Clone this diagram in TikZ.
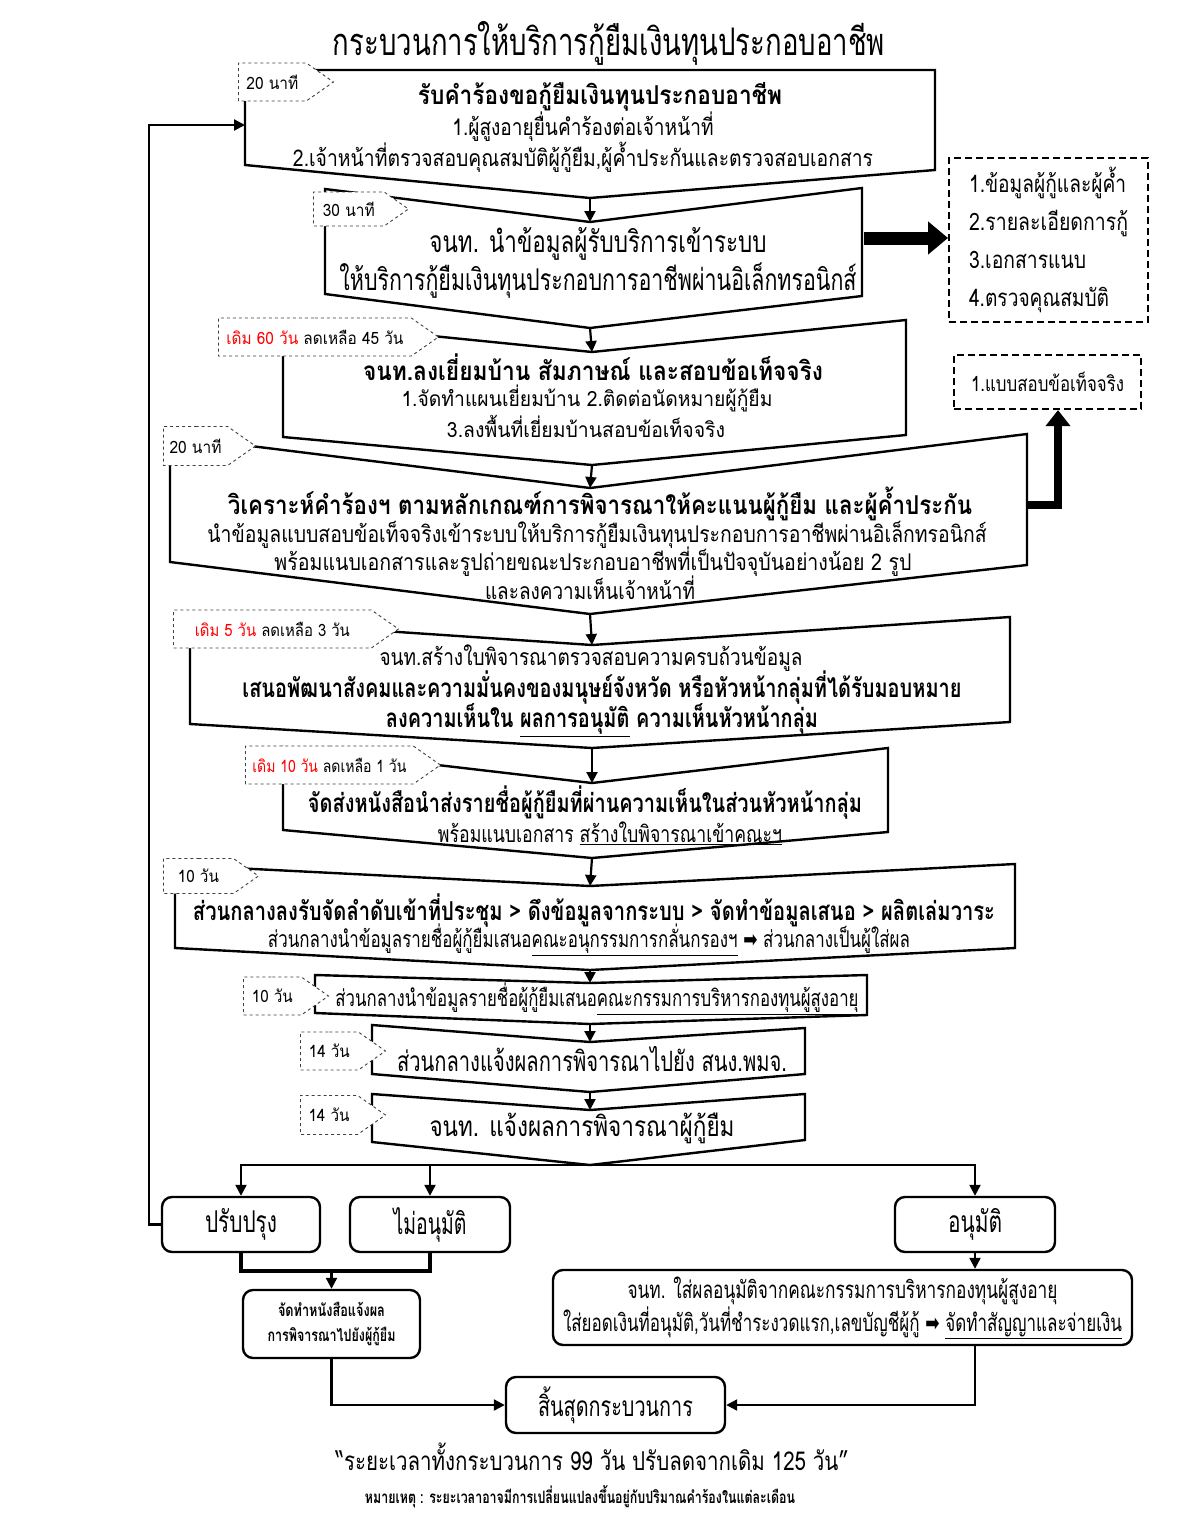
\documentclass[tikz,border=0pt]{standalone}
\usepackage{fontspec}
\usepackage{graphicx}
\setmainfont{Loma}[Script=Thai]
\newfontfamily\symfont{DejaVu Sans}
\usetikzlibrary{arrows.meta,shapes.symbols}

% squeeze a line of text to the width it has in the picture
\newcommand{\fitw}[2]{\resizebox{#1pt}{\height}{#2}}
\newcommand{\rarr}{{\symfont ➡}}

\begin{document}
\begin{tikzpicture}[x=1pt, y=-1pt,
  box/.style={draw=black, line width=2.4pt, line join=miter},
  tag/.style={signal, signal to=east, signal pointer angle=70, draw=black!75, dashed,
              line width=0.9pt, fill=white, anchor=west, inner sep=1pt,
              font=\fontsize{17}{20}\selectfont},
  rbox/.style={draw=black, line width=2.4pt, rounded corners=10pt, fill=white,
               align=center, inner sep=0pt},
  dbox/.style={draw=black, line width=2.2pt, dash pattern=on 7pt off 4pt,
               align=left, inner sep=0pt},
  ttl/.style={inner sep=0pt, font=\fontsize{38}{44}\selectfont},
  big/.style={inner sep=0pt, font=\fontsize{30}{36}\selectfont},
  hd/.style={inner sep=0pt, font=\bfseries\fontsize{26}{31}\selectfont},
  txt/.style={inner sep=0pt, font=\fontsize{23}{28}\selectfont},
  tiny/.style={inner sep=0pt, font=\bfseries\fontsize{17}{25}\selectfont},
  arr/.style={draw=black, line width=2.2pt, -{Triangle[length=11pt,width=11pt]}},
  fat/.style={draw=black, line width=13pt, -{Triangle[length=20pt,width=32pt]}},
  fatb/.style={draw=black, line width=8pt, line join=miter, -{Triangle[length=16pt,width=24pt]}}
]
\path[fill=white, use as bounding box] (0,0) rectangle (1193,1536);

\node[ttl] (title) at (609,43) {\fitw{552}{กระบวนการให้บริการกู้ยืมเงินทุนประกอบอาชีพ}};

% step boxes
\draw[box] (245,70) -- (935,70) -- (935,170) -- (590,198) coordinate (b1out) -- (245,165) -- cycle;
\coordinate (b1in) at (245,125);
\draw[box] (325,189) -- (590,222) coordinate (b2in) -- (862,188) -- (862,296) -- (590,328) coordinate (b2out) -- (325,294) -- cycle;
\coordinate (b2r) at (864,238);
\draw[box] (283,321) -- (592,352) coordinate (b3in) -- (906,320) -- (906,435) -- (592,465) coordinate (b3out) -- (283,437) -- cycle;
\draw[box] (170,436) -- (590,488) coordinate (b4in) -- (1027,434) -- (1027,565) -- (590,614) coordinate (b4out) -- (170,562) -- cycle;
\coordinate (b4r) at (1026,505);
\coordinate (b4up) at (1058,505);
\draw[box] (190,618) -- (592,645) coordinate (b5in) -- (1010,617) -- (1010,722) -- (592,748) coordinate (b5out) -- (190,724) -- cycle;
\draw[box] (283,747) -- (592,783) coordinate (b6in) -- (888,748) -- (888,832) -- (592,858) coordinate (b6out) -- (283,830) -- cycle;
\draw[box] (175,865) -- (590,886) coordinate (b7in) -- (1015,864) -- (1015,948) -- (590,970) coordinate (b7out) -- (175,948) -- cycle;
\draw[box] (315,975) -- (590,983) coordinate (b8in) -- (867,975) -- (867,1015) -- (590,1024) coordinate (b8out) -- (315,1013) -- cycle;
\draw[box] (372,1025) -- (590,1042) coordinate (b9in) -- (805,1028) -- (805,1074) -- (590,1092) coordinate (b9out) -- (372,1074) -- cycle;
\draw[box] (372,1094) -- (590,1110) coordinate (b10in) -- (805,1094) -- (805,1140) -- (590,1165) coordinate (b10out) -- (372,1142) -- cycle;

% time tags
\node[tag, minimum width=95pt, minimum height=38pt] (t1) at (238,82) {\fitw{52}{20 นาที}};
\node[tag, minimum width=95pt, minimum height=34pt] (t2) at (313,209) {\fitw{52}{30 นาที}};
\node[tag, minimum width=220pt, minimum height=38pt] (t3) at (218,337) {\fitw{177}{\color{red}เดิม 60 วัน \color{black}ลดเหลือ 45 วัน}};
\node[tag, minimum width=92pt, minimum height=39pt] (t4) at (163,446) {\fitw{52}{20 นาที}};
\node[tag, minimum width=225pt, minimum height=38pt] (t5) at (173,629) {\fitw{155}{\color{red}เดิม 5 วัน \color{black}ลดเหลือ 3 วัน}};
\node[tag, minimum width=195pt, minimum height=38pt] (t6) at (245,765) {\fitw{154}{\color{red}เดิม 10 วัน \color{black}ลดเหลือ 1 วัน}};
\node[tag, minimum width=95pt, minimum height=35pt] (t7) at (163,876) {\fitw{41}{10 วัน}};
\node[tag, minimum width=85pt, minimum height=38pt] (t8) at (243,996) {\fitw{41}{10 วัน}};
\node[tag, minimum width=85pt, minimum height=38pt] (t9) at (300,1051) {\fitw{41}{14 วัน}};
\node[tag, minimum width=85pt, minimum height=39pt] (t10) at (300,1115) {\fitw{41}{14 วัน}};

% step texts
\node[hd] (s1a) at (600,97) {\fitw{364}{รับคำร้องขอกู้ยืมเงินทุนประกอบอาชีพ}};
\node[txt] (s1b) at (583,127) {\fitw{261}{1.ผู้สูงอายุยื่นคำร้องต่อเจ้าหน้าที่}};
\node[txt] (s1c) at (583,157) {\fitw{580}{2.เจ้าหน้าที่ตรวจสอบคุณสมบัติผู้กู้ยืม,ผู้ค้ำประกันและตรวจสอบเอกสาร}};
\node[big] (s2a) at (598,244) {\fitw{337}{จนท. นำข้อมูลผู้รับบริการเข้าระบบ}};
\node[big] (s2b) at (598,281) {\fitw{517}{ให้บริการกู้ยืมเงินทุนประกอบการอาชีพผ่านอิเล็กทรอนิกส์}};
\node[hd] (s3a) at (593,367) {\fitw{460}{จนท.ลงเยี่ยมบ้าน สัมภาษณ์ และสอบข้อเท็จจริง}};
\node[txt, font=\fontsize{21}{26}\selectfont] (s3b) at (587,398) {\fitw{371}{1.จัดทำแผนเยี่ยมบ้าน 2.ติดต่อนัดหมายผู้กู้ยืม}};
\node[txt, font=\fontsize{21}{26}\selectfont] (s3c) at (586,426) {\fitw{278}{3.ลงพื้นที่เยี่ยมบ้านสอบข้อเท็จจริง}};
\node[hd] (s4a) at (600,504) {\fitw{744}{วิเคราะห์คำร้องฯ ตามหลักเกณฑ์การพิจารณาให้คะแนนผู้กู้ยืม และผู้ค้ำประกัน}};
\node[txt] (s4b) at (597,535) {\fitw{779}{นำข้อมูลแบบสอบข้อเท็จจริงเข้าระบบให้บริการกู้ยืมเงินทุนประกอบการอาชีพผ่านอิเล็กทรอนิกส์}};
\node[txt] (s4c) at (593,562) {\fitw{637}{พร้อมแนบเอกสารและรูปถ่ายขณะประกอบอาชีพที่เป็นปัจจุบันอย่างน้อย 2 รูป}};
\node[txt] (s4d) at (590,588) {\fitw{210}{และลงความเห็นเจ้าหน้าที่}};
\node[txt] (s5a) at (591,658) {\fitw{423}{จนท.สร้างใบพิจารณาตรวจสอบความครบถ้วนข้อมูล}};
\node[hd] (s5b) at (602,688) {\fitw{719}{เสนอพัฒนาสังคมและความมั่นคงของมนุษย์จังหวัด หรือหัวหน้ากลุ่มที่ได้รับมอบหมาย}};
\node[hd] (s5c) at (602,720) {\fitw{432}{ลงความเห็นใน \underline{ผลการอนุมัติ} ความเห็นหัวหน้ากลุ่ม}};
\node[hd] (s6a) at (585,803) {\fitw{554}{จัดส่งหนังสือนำส่งรายชื่อผู้กู้ยืมที่ผ่านความเห็นในส่วนหัวหน้ากลุ่ม}};
\node[txt] (s6b) at (610,833) {\fitw{344}{พร้อมแนบเอกสาร \underline{สร้างใบพิจารณาเข้าคณะฯ}}};
\node[hd] (s7a) at (594,911) {\fitw{802}{ส่วนกลางลงรับจัดลำดับเข้าที่ประชุม > ดึงข้อมูลจากระบบ > จัดทำข้อมูลเสนอ > ผลิตเล่มวาระ}};
\node[txt] (s7b) at (589,940) {\fitw{642}{ส่วนกลางนำข้อมูลรายชื่อผู้กู้ยืมเสนอ\underline{คณะอนุกรรมการกลั่นกรองฯ} \rarr{} ส่วนกลางเป็นผู้ใส่ผล}};
\node[txt] (s8) at (597,999) {\fitw{523}{ส่วนกลางนำข้อมูลรายชื่อผู้กู้ยืมเสนอ\underline{คณะกรรมการบริหารกองทุนผู้สูงอายุ}}};
\node[big, font=\fontsize{28}{34}\selectfont] (s9) at (592,1059) {\fitw{390}{ส่วนกลางแจ้งผลการพิจารณาไปยัง สนง.พมจ.}};
\node[big, font=\fontsize{28}{34}\selectfont] (s10) at (582,1128) {\fitw{305}{จนท. แจ้งผลการพิจารณาผู้กู้ยืม}};

% side notes
\node[dbox, minimum width=199pt, minimum height=164pt, anchor=north west,
      font=\fontsize{24}{38}\selectfont] (infoA) at (948,157)
  {\fitw{157}{1.ข้อมูลผู้กู้และผู้ค้ำ}\\ \fitw{159}{2.รายละเอียดการกู้}\\
   \fitw{117}{3.เอกสารแนบ}\\ \fitw{140}{4.ตรวจคุณสมบัติ}};
\node[dbox, minimum width=187pt, minimum height=54pt, font=\fontsize{21}{26}\selectfont]
  (infoB) at (1047.5,382) {\fitw{153}{1.แบบสอบข้อเท็จจริง}};

% results
\node[rbox, big, minimum width=158pt, minimum height=55pt] (fix) at (241,1224.5) {\fitw{72}{ปรับปรุง}};
\node[rbox, big, minimum width=160pt, minimum height=55pt] (rej) at (430,1224.5) {\fitw{73}{ไม่อนุมัติ}};
\node[rbox, big, minimum width=160pt, minimum height=55pt] (appr) at (975,1224.5) {\fitw{54}{อนุมัติ}};
\node[rbox, tiny, minimum width=177pt, minimum height=68pt] (notice) at (331.5,1324)
  {\fitw{107}{จัดทำหนังสือแจ้งผล}\\ \fitw{128}{การพิจารณาไปยังผู้กู้ยืม}};
\node[rbox, txt, font=\fontsize{24}{33}\selectfont, minimum width=579pt, minimum height=75pt] (pay) at (842.5,1307.5)
  {\fitw{430}{จนท. ใส่ผลอนุมัติจากคณะกรรมการบริหารกองทุนผู้สูงอายุ}\\
   \fitw{559}{ใส่ยอดเงินที่อนุมัติ,วันที่ชำระงวดแรก,เลขบัญชีผู้กู้ \rarr{} \underline{จัดทำสัญญาและจ่ายเงิน}}};
\node[rbox, font=\fontsize{28}{34}\selectfont, minimum width=219pt, minimum height=56pt] (end) at (615.5,1405) {\fitw{155}{สิ้นสุดกระบวนการ}};

\node[txt, font=\fontsize{26}{30}\selectfont] (total) at (592,1457) {\fitw{513}{“ระยะเวลาทั้งกระบวนการ 99 วัน ปรับลดจากเดิม 125 วัน”}};
\node[tiny] (remark) at (580,1497) {\fitw{430}{หมายเหตุ : ระยะเวลาอาจมีการเปลี่ยนแปลงขึ้นอยู่กับปริมาณคำร้องในแต่ละเดือน}};

% connectors
\draw[arr] (b1out) -- (b2in);
\draw[arr] (b2out) -- (b3in);
\draw[arr] (b3out) -- (b4in);
\draw[arr] (b4out) -- (b5in);
\draw[arr] (b5out) -- (b6in);
\draw[arr] (b6out) -- (b7in);
\draw[arr] (b7out) -- (b8in);
\draw[arr] (b8out) -- (b9in);
\draw[arr] (b9out) -- (b10in);
\draw[fat] (b2r) -- (infoA.west |- b2r);
\draw[fatb] (b4r) -- (b4up) -- (b4up |- infoB.south);
\draw[arr] (b10out) -| (fix.north);
\draw[arr] (b10out) -| (rej.north);
\draw[arr] (b10out) -| (appr.north);
\draw[arr] (fix.west) -- ++(-12,0) |- (b1in);
\coordinate (merge) at (331.5,1271);
\draw[line width=3.5pt] (fix.south) |- (merge) -| (rej.south);
\draw[arr] (merge) -- (notice.north);
\draw[arr] (appr.south) -- (appr.south |- pay.north);
\draw[arr] (notice.south) |- (end.west);
\draw[arr] (pay.south -| appr.south) |- (end.east);
\end{tikzpicture}
\end{document}
